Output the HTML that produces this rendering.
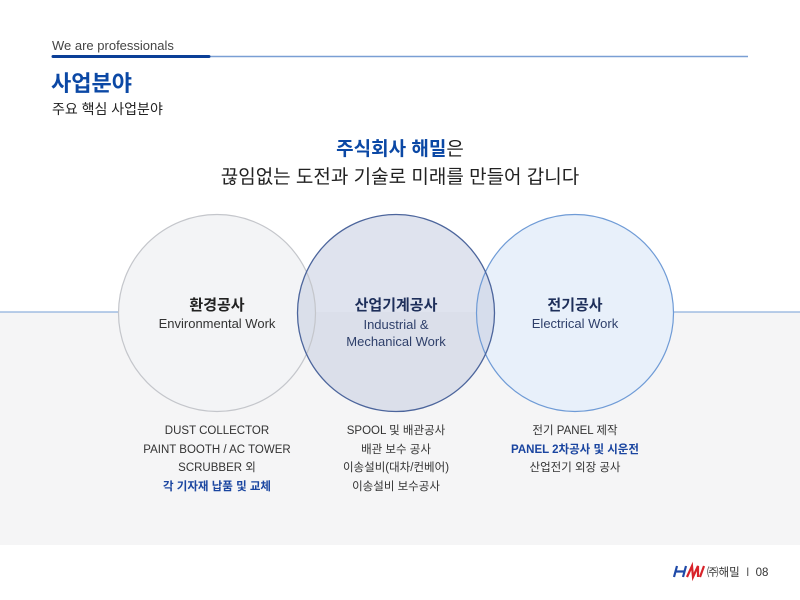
<!DOCTYPE html>
<html><head><meta charset="utf-8">
<style>
*{margin:0;padding:0;box-sizing:border-box}
body{width:800px;height:600px;position:relative;overflow:hidden;background:#fff;font-family:"Liberation Sans","Noto Sans CJK KR",sans-serif;}
.a{position:absolute;white-space:nowrap}
.c{text-align:center}
</style></head><body>
<div class="a" style="left:0;top:312px;width:800px;height:233px;background:#f5f5f6"></div>
<svg class="a" style="left:0;top:0" width="800" height="600">
<line x1="52" y1="56.5" x2="748" y2="56.5" stroke="#7a9fd4" stroke-width="1.5"/>
<line x1="53" y1="56.5" x2="209" y2="56.5" stroke="#0b3f97" stroke-width="3" stroke-linecap="round"/>
<line x1="0" y1="312" x2="120" y2="312" stroke="#8fb0dd" stroke-width="1.2"/>
<line x1="672" y1="312" x2="800" y2="312" stroke="#8fb0dd" stroke-width="1.2"/>
<circle cx="217" cy="313" r="98.5" fill="#f3f4f6"/>
<circle cx="575" cy="313" r="98.5" fill="#e8f0fa"/>
<circle cx="396" cy="313" r="98.5" fill="#c9d0e2" fill-opacity="0.6"/>
<circle cx="217" cy="313" r="98.5" fill="none" stroke="#c4c6cb" stroke-width="1.2"/>
<circle cx="575" cy="313" r="98.5" fill="none" stroke="#6f9bd6" stroke-width="1.2"/>
<circle cx="396" cy="313" r="98.5" fill="none" stroke="#4c659c" stroke-width="1.3"/>
<g fill="none" stroke-width="2.2">
<path d="M674,577 L677,566 M675.5,571.5 L684,571.5 M683,577 L686,566" stroke="#1f4aa8"/>
<path d="M687,577 L692,566 L693,577 L698,566 L698,577 M700,577 L704,566" stroke="#d8232a"/>
</g>
</svg>
<div class="a" style="left:52px;top:38px;font-size:13px;color:#444">We are professionals</div>
<div class="a" style="left:51px;top:66px;font-size:22px;font-weight:bold;color:#0b48a5">사업분야</div>
<div class="a" style="left:52px;top:99px;font-size:14px;color:#222">주요 핵심 사업분야</div>
<div class="a c" style="left:0;width:800px;top:134px;font-size:19px;font-weight:bold;color:#0b48a5">주식회사 해밀<span style="font-weight:normal;color:#222">은</span></div>
<div class="a c" style="left:0;width:800px;top:162px;font-size:19px;color:#222">끊임없는 도전과 기술로 미래를 만들어 갑니다</div>

<div class="a c" style="left:117px;width:200px;top:294px;font-size:15px;font-weight:bold;color:#222">환경공사</div>
<div class="a c" style="left:117px;width:200px;top:316px;font-size:13px;color:#333">Environmental Work</div>
<div class="a c" style="left:296px;width:200px;top:294px;font-size:15px;font-weight:bold;color:#1e2f5a">산업기계공사</div>
<div class="a c" style="left:296px;width:200px;top:316px;font-size:13px;color:#2e3f6a;line-height:17px">Industrial &amp;<br>Mechanical Work</div>
<div class="a c" style="left:475px;width:200px;top:294px;font-size:15px;font-weight:bold;color:#1e2f5a">전기공사</div>
<div class="a c" style="left:475px;width:200px;top:316px;font-size:13px;color:#2e3f6a">Electrical Work</div>

<div class="a c" style="left:117px;width:200px;top:422px;font-size:11.5px;line-height:18.5px;color:#333">DUST COLLECTOR<br>PAINT BOOTH / AC TOWER<br>SCRUBBER 외<br><b style="color:#1a45a0">각 기자재 납품 및 교체</b></div>
<div class="a c" style="left:296px;width:200px;top:422px;font-size:11.5px;line-height:18.5px;color:#333">SPOOL 및 배관공사<br>배관 보수 공사<br>이송설비(대차/컨베어)<br>이송설비 보수공사</div>
<div class="a c" style="left:475px;width:200px;top:422px;font-size:11.5px;line-height:18.5px;color:#333">전기 PANEL 제작<br><b style="color:#1a45a0">PANEL 2차공사 및 시운전</b><br>산업전기 외장 공사</div>

<div class="a" style="left:707px;top:564px;font-size:11.5px;color:#333">㈜해밀 &nbsp;<span style="color:#555">I</span>&nbsp; 08</div>
</body></html>
